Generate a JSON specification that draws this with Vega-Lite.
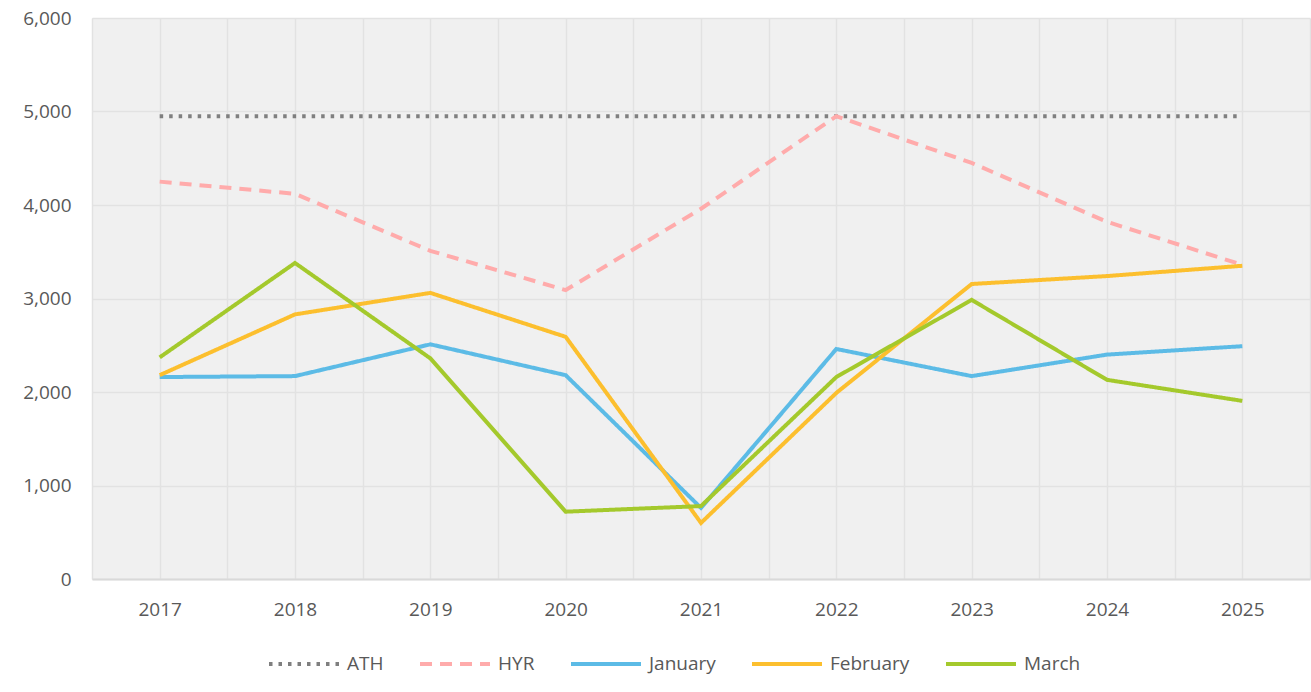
{
  "$schema": "https://vega.github.io/schema/vega-lite/v6.json",
  "width": 1218,
  "height": 561,
  "autosize": {"type": "none"},
  "padding": {"left": 92, "top": 18, "right": 1, "bottom": 113},
  "background": "white",
  "config": {
    "view": {"stroke": null, "fill": "#f0f0f0"},
    "font": "Open Sans"
  },
  "data": {
    "values": [
      {"year": 2017, "s": "ATH", "v": 4950},
      {"year": 2018, "s": "ATH", "v": 4950},
      {"year": 2019, "s": "ATH", "v": 4950},
      {"year": 2020, "s": "ATH", "v": 4950},
      {"year": 2021, "s": "ATH", "v": 4950},
      {"year": 2022, "s": "ATH", "v": 4950},
      {"year": 2023, "s": "ATH", "v": 4950},
      {"year": 2024, "s": "ATH", "v": 4950},
      {"year": 2025, "s": "ATH", "v": 4950},
      {"year": 2017, "s": "HYR", "v": 4250},
      {"year": 2018, "s": "HYR", "v": 4120},
      {"year": 2019, "s": "HYR", "v": 3510},
      {"year": 2020, "s": "HYR", "v": 3090},
      {"year": 2021, "s": "HYR", "v": 3960},
      {"year": 2022, "s": "HYR", "v": 4950},
      {"year": 2023, "s": "HYR", "v": 4450},
      {"year": 2024, "s": "HYR", "v": 3820},
      {"year": 2025, "s": "HYR", "v": 3360},
      {"year": 2017, "s": "January", "v": 2160},
      {"year": 2018, "s": "January", "v": 2170},
      {"year": 2019, "s": "January", "v": 2510},
      {"year": 2020, "s": "January", "v": 2180},
      {"year": 2021, "s": "January", "v": 760},
      {"year": 2022, "s": "January", "v": 2460},
      {"year": 2023, "s": "January", "v": 2170},
      {"year": 2024, "s": "January", "v": 2400},
      {"year": 2025, "s": "January", "v": 2490},
      {"year": 2017, "s": "February", "v": 2180},
      {"year": 2018, "s": "February", "v": 2830},
      {"year": 2019, "s": "February", "v": 3060},
      {"year": 2020, "s": "February", "v": 2590},
      {"year": 2021, "s": "February", "v": 600},
      {"year": 2022, "s": "February", "v": 1990},
      {"year": 2023, "s": "February", "v": 3155},
      {"year": 2024, "s": "February", "v": 3240},
      {"year": 2025, "s": "February", "v": 3350},
      {"year": 2017, "s": "March", "v": 2370},
      {"year": 2018, "s": "March", "v": 3380},
      {"year": 2019, "s": "March", "v": 2360},
      {"year": 2020, "s": "March", "v": 720},
      {"year": 2021, "s": "March", "v": 780},
      {"year": 2022, "s": "March", "v": 2160},
      {"year": 2023, "s": "March", "v": 2985},
      {"year": 2024, "s": "March", "v": 2130},
      {"year": 2025, "s": "March", "v": 1905}
    ]
  },
  "mark": {"type": "line", "strokeWidth": 4},
  "encoding": {
    "x": {
      "field": "year",
      "type": "quantitative",
      "scale": {"domain": [2016.5, 2025.5], "nice": false, "zero": false},
      "axis": {
        "title": null,
        "values": [2016.5, 2017, 2017.5, 2018, 2018.5, 2019, 2019.5, 2020, 2020.5, 2021, 2021.5, 2022, 2022.5, 2023, 2023.5, 2024, 2024.5, 2025, 2025.5],
        "labelExpr": "datum.value % 1 == 0 ? '' + datum.value : ''",
        "grid": true,
        "gridColor": "#e2e2e2",
        "gridWidth": 1.5,
        "ticks": false,
        "domain": true,
        "domainColor": "#d9d9d9",
        "domainWidth": 2,
        "labelFontSize": 19,
        "labelColor": "#595959",
        "labelPadding": 21,
        "labelFlush": false,
        "labelOverlap": false
      }
    },
    "y": {
      "field": "v",
      "type": "quantitative",
      "scale": {"domain": [0, 6000], "nice": false},
      "axis": {
        "title": null,
        "values": [0, 1000, 2000, 3000, 4000, 5000, 6000],
        "format": ",d",
        "grid": true,
        "gridColor": "#e2e2e2",
        "gridWidth": 1.5,
        "ticks": false,
        "domain": false,
        "labelFontSize": 19,
        "labelColor": "#595959",
        "labelPadding": 21
      }
    },
    "color": {
      "field": "s",
      "type": "nominal",
      "scale": {
        "domain": ["ATH", "HYR", "January", "February", "March"],
        "range": ["#7f7f7f", "#ffabab", "#5cbbe6", "#fcbf2e", "#a4c92c"]
      },
      "legend": {
        "title": null,
        "orient": "none",
        "direction": "horizontal",
        "legendX": 175,
        "legendY": 609,
        "symbolType": "stroke",
        "symbolSize": 4900,
        "symbolStrokeWidth": 4,
        "labelFontSize": 19,
        "labelColor": "#595959",
        "labelOffset": 6,
        "columnPadding": 28
      }
    },
    "strokeDash": {
      "field": "s",
      "type": "nominal",
      "scale": {
        "domain": ["ATH", "HYR", "January", "February", "March"],
        "range": [[3.5, 6], [12, 8], [1, 0], [1, 0], [1, 0]]
      },
      "legend": null
    }
  }
}
